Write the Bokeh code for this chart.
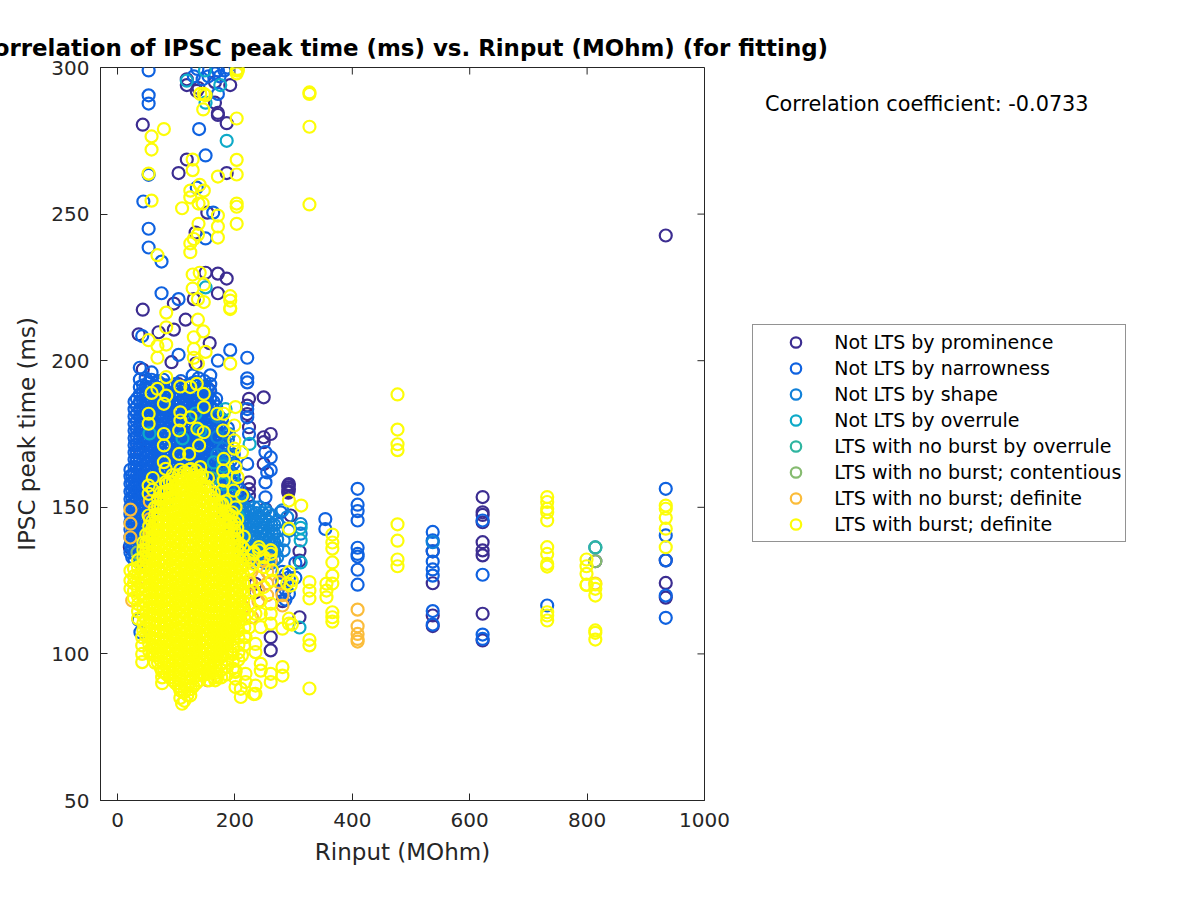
from bokeh.plotting import figure
from bokeh.models import Legend, LegendItem, FixedTicker, Range1d, Title
from bokeh.embed import file_html
from bokeh.resources import INLINE

series_names = ["Not LTS by prominence", "Not LTS by narrowness", "Not LTS by shape", "Not LTS by overrule",
                "LTS with no burst by overrule", "LTS with no burst; contentious", "LTS with no burst; definite",
                "LTS with burst; definite"]
series_colors = ["#3c2d91", "#0f62e0", "#1181d9", "#0eaac8", "#2fb5a0", "#86bb70", "#fbbc3a", "#fdfd08"]
x_ticks = [0, 200, 400, 600, 800, 1000]
y_ticks = [50, 100, 150, 200, 250, 300]
correlation_text = "Correlation coefficient: -0.0733"

prominence = {
    934: [242.7, 131.9, 124.2, 119.2], 814: [131.6],
    622: [153.5, 148.3, 147.4, 144.9, 138.1, 135.3, 133.6, 113.7, 104.6],
    537: [135, 124.1, 113.1, 109.5], 291: [157.5, 156.8, 155.5, 155], 310: [135, 131.8, 112.5],
    43: [280.5, 217.4, 197], 171: [284.5, 283.8, 229.7, 223, 181], 186: [281, 264, 228], 118: [296, 294, 268.6],
    104: [264, 192, 170], 153: [250.5], 150: [230, 188, 160], 133: [243.7, 199], 130: [221, 175], 116: [214, 186],
    96: [219.5, 210.6, 180], 36: [209, 170], 70: [209.7, 176, 150], 157: [206, 190], 92: [199.5, 160], 192: [294],
    166: [295, 288, 176], 138: [293], 135: [292], 249: [187.5, 173.9, 172.2, 164.8], 224: [187, 177.3, 158.5, 156.2, 154],
    221: [184.7, 181.8], 261: [175, 105.7, 101.2], 292: [157.9, 156.2], 252: [149.4], 295: [147.2], 235: [123.9, 121],
    21: [136.4], 281: [125, 118],
}
narrowness = {
    934: [156.3, 140.4, 131.9, 119.9, 112.3], 409: [156.3, 150.9, 148.7, 145.5, 136.2, 134.1, 133.2, 128.7, 123.6],
    537: [141.6, 138.7, 131.5, 128.8, 126.7, 135, 114.6, 110], 622: [145.5, 127, 106.6, 105.1], 732: [116.5],
    53: [299, 290.5, 287.7, 263.4, 245, 238.6], 44: [254.3], 139: [279], 150: [270, 241.7], 163: [250.5], 135: [259],
    75: [233.8, 223], 104: [221, 202], 42: [208.4], 192: [203.6], 221: [201, 194, 192.6, 183.5, 180.7, 164.8], 171: [299, 291, 200],
    136: [299.5], 130: [297], 182: [299], 187.5: [300], 174: [297], 155: [297], 166: [298], 145: [296],
    224: [175], 252: [168.8, 158.5, 153.4], 261: [167, 162.7], 255: [161.9], 215: [154], 278: [148.3], 354: [146, 142.6],
    36: [111.6], 39: [107.4], 281: [128, 124, 121], 286: [127, 122, 118.5], 292: [126, 120.5], 303: [131, 126],
    22: [134.6, 137.2, 139.8, 142.4, 145, 147.6, 150.2, 152.8, 155.4, 158, 160.6, 162.8],
    29: [132, 134.4, 136.9, 139.3, 141.8, 144.2, 146.7, 149.1, 151.6, 154, 156.5, 158.9, 161.4, 163.8, 166.3, 168.7, 171.2, 173.6, 176.1, 178.5, 181, 183.4, 186],
    38: [131, 133.5, 136, 138.5, 141, 143.5, 146, 148.5, 151, 153.5, 156, 158.5, 161, 163.5, 166, 168.5, 171, 173.5, 176, 178.5, 181, 183.5, 186, 188.5, 191, 193.6, 197.6],
    48: [136, 138.4, 140.8, 143.2, 145.6, 148, 150.4, 152.8, 155.2, 157.6, 160, 162.4, 164.8, 167.2, 169.6, 172, 174.4, 176.8, 179.2, 181.6, 184, 186.4, 188.8, 191.2, 194],
    58: [146, 148.5, 151, 153.5, 156, 158.5, 161, 163.5, 166, 168.5, 171, 173.5, 176, 178.5, 181, 183.5, 186, 188.5, 191, 193.5, 196],
    68: [152, 154.4, 156.8, 159.2, 161.6, 164, 166.4, 168.8, 171.2, 173.6, 176, 178.4, 180.8, 183.2, 185.6, 188, 190.4, 193],
    78: [156, 158.5, 161, 163.5, 166, 168.5, 171, 173.5, 176, 178.5, 181, 183.5, 186, 188.5, 191, 193.5],
    88: [160, 162.4, 164.8, 167.2, 169.6, 172, 174.4, 176.8, 179.2, 181.6, 184, 186.4, 188.8, 191.2],
    98: [162, 164.5, 167, 169.5, 172, 174.5, 177, 179.5, 182, 184.5, 187, 189.5, 192],
    108: [164, 166.4, 168.8, 171.2, 173.6, 176, 178.4, 180.8, 183.2, 185.6, 188, 190.4, 193],
    118: [164, 166.5, 169, 171.5, 174, 176.5, 179, 181.5, 184, 186.5, 189, 191.5],
    128: [166, 168.4, 170.8, 173.2, 175.6, 178, 180.4, 182.8, 185.2, 187.6, 190, 192.4, 195],
    138: [164, 166.5, 169, 171.5, 174, 176.5, 179, 181.5, 184, 186.5, 189, 191.5, 194],
    148: [164, 166.4, 168.8, 171.2, 173.6, 176, 178.4, 180.8, 183.2, 185.6, 188, 190.4, 193],
    158: [162, 164.5, 167, 169.5, 172, 174.5, 177, 179.5, 182, 184.5, 187, 189.5, 192, 195],
    168: [158, 160.4, 162.8, 165.2, 167.6, 170, 172.4, 174.8, 177.2, 179.6, 182, 184.4, 187],
    178: [150, 153, 156, 159, 162, 165, 168, 171, 174, 177, 180],
    188: [146, 149, 152, 155, 158, 161, 164, 167, 170, 173, 177],
    198: [143, 146, 149, 152, 155, 158, 161, 165, 168],
    208: [138, 141, 144, 147, 150, 153, 156],
    25: [133, 136, 138.5, 141, 143.5, 146, 148.5, 151, 153.5, 156, 158.5, 161],
    33: [135, 137.6, 140.2, 142.8, 145.4, 148, 150.6, 153.2, 155.8, 158.4, 161, 163.6, 166.2, 168.8, 171.4, 174, 176.6, 179.2, 181.8, 184.4, 187],
    43.5: [137, 139.6, 142.2, 144.8, 147.4, 150, 152.6, 155.2, 157.8, 160.4, 163, 165.6, 168.2, 170.8, 173.4, 176, 178.6, 181.2, 183.8, 186.4, 189, 191.6],
    53.5: [145, 147.7, 150.2, 152.7, 155.2, 157.7, 160.2, 162.7, 165.2, 167.7, 170.2, 172.7, 175.2, 177.7, 180.2, 182.7, 185.2, 187.7, 190.2, 192.7],
    63: [152, 155, 157.6, 160.2, 162.8, 165.4, 168, 170.6, 173.2, 175.8, 178.4, 181, 183.6, 186.2, 188.8, 191.4],
    73: [157, 159.7, 162.2, 164.7, 167.2, 169.7, 172.2, 174.7, 177.2, 179.7, 182.2, 184.7, 187.2, 189.7, 192.2],
    83.5: [160, 163, 165.6, 168.2, 170.8, 173.4, 176, 178.6, 181.2, 183.8, 186.4, 189, 191.6],
    93: [163, 165.7, 168.2, 170.7, 173.2, 175.7, 178.2, 180.7, 183.2, 185.7, 188.2, 190.7],
    103: [165, 167.6, 170.2, 172.8, 175.4, 178, 180.6, 183.2, 185.8, 188.4, 191],
    113: [165, 167.7, 170.2, 172.7, 175.2, 177.7, 180.2, 182.7, 185.2, 187.7, 190.2],
    123: [165, 167.6, 170.2, 172.8, 175.4, 178, 180.6, 183.2, 185.8, 188.4, 191],
    133.5: [165, 167.7, 170.2, 172.7, 175.2, 177.7, 180.2, 182.7, 185.2, 187.7, 190.2, 192.7],
    143: [165, 167.6, 170.2, 172.8, 175.4, 178, 180.6, 183.2, 185.8, 188.4, 191],
    153.5: [163, 165.7, 168.2, 170.7, 173.2, 175.7, 178.2, 180.7, 183.2, 185.7, 188.2, 190.7],
    163.5: [160, 162.6, 165.2, 167.8, 170.4, 173, 175.6, 178.2, 180.8, 183.4, 186],
    173: [154, 157, 160, 163, 166, 169, 172, 175, 178, 181],
    183: [148, 151, 154, 157, 160, 163, 166, 169, 172, 175],
    193: [144, 147, 150, 153, 156, 159, 162, 166],
    203: [140, 143, 146, 149, 152, 155, 158],
}
shape = {
    537: [138.1], 814: [136.3], 312: [144.3, 141], 292: [142], 232: [143.8, 134, 138], 263: [141], 281: [149],
    283: [138.7, 135.3], 261: [137.5], 244: [141], 221: [146.6], 249: [143], 289: [146.6],
    212: [133, 136, 139, 142, 145, 148, 151], 222: [132, 135, 138, 141, 144, 149, 152], 232.5: [131, 136, 140, 146, 150],
    242: [132, 135, 138, 144, 147, 150], 252: [131, 134, 137, 140, 146, 149], 262: [131, 134, 144, 147], 272: [133, 136, 139, 142, 145],
    180: [170, 165, 159, 154], 190: [175, 168, 162, 156], 170: [181, 174, 168],
    217: [134.5, 137.5, 140.5, 143.5, 146.5, 149.5], 227: [133.5, 136.5, 139.5, 142.5, 145.5, 148.5], 237: [133, 136, 139, 142, 145, 148],
    247: [133, 136, 139, 142, 145, 148], 257: [133, 136, 139, 142, 145, 148], 267: [132, 135, 138, 141, 144],
}
overrule = {
    118: [295.5], 149: [299], 175: [294], 150: [288, 225], 186: [275], 54.5: [175.2], 110.7: [173.5], 133: [182], 141: [176.2],
    164: [165.3], 225: [171.6], 184: [183.5], 312: [143, 138.7, 131.2], 310: [109], 196: [160, 154], 180: [158, 164], 205: [147],
}
burst_overrule = {814: [136.3], 40: [133], 100: [152], 160: [160]}
contentious = {814: [131.6], 34: [134.6], 60: [142], 150: [128]}
definite = {
    409: [115.1, 109.4, 106.8, 105.1, 104.2], 814: [124], 22: [149.2, 144.4, 139.7], 25: [118.2], 153: [91],
    281: [120, 116.5], 275: [124.5], 261: [135.3, 131.9], 218: [130.7], 246: [132], 215: [116], 229: [112.5],
    255: [128, 124, 120], 240: [126, 122, 118], 228: [128, 124], 55: [152, 146, 140], 45: [130, 126],
    50: [137, 134],
}
burst = {
    327: [291.5, 291, 279.8, 253.3, 124.5, 121.6, 118.9, 104.8, 102.9, 88.2],
    477: [188.5, 176.5, 171.5, 169.5, 144.2, 138.6, 132.2, 129.9],
    732: [153.5, 151.8, 149.5, 148.3, 145.5, 136.4, 134.1, 130.7, 129.8, 114.2, 113.1, 111.4],
    799: [132.2, 129.9, 127.3, 123.6, 123.5], 814: [123.7, 122.2, 119.9, 108, 107.2, 104.9],
    934: [150.6, 149.5, 146.4, 142.7, 136.4], 356: [124, 121.6, 119.3],
    366: [140.7, 138, 135.9, 131.2, 126.7, 124, 114.2, 112.5, 111], 313: [150.6],
    292: [152.3, 142.7, 127.9, 110.3, 112], 297: [125, 110], 289: [124], 295: [123.3],
    79: [279, 175, 171.1, 185.3, 165.4], 58: [276.5, 272, 254.6, 189], 128: [268.6, 265, 229.4, 224.6], 203: [282.6, 263.5, 268.5, 253.6, 252.5, 246.7, 299, 298],
    171: [262.8, 245.8, 242, 249.5], 146: [285.7, 210], 53: [263.8, 207, 181.9, 178.5, 157.4, 154.6, 147.2],
    140: [260, 230], 147: [258, 226, 220, 291, 188.7, 184.2, 175.6, 156.9], 124: [258, 255.7, 240, 237, 191, 180.7, 85.8],
    110: [252, 83], 138: [253.6, 246.7], 145: [253.6], 137: [243, 221, 214, 199], 130: [241.5, 208, 204, 201], 68: [236, 205, 201, 190.4],
    192: [222, 220.5, 218, 217.6, 199], 83: [216.4, 211.4, 205.5, 194.4, 188.1], 150: [290.5, 203], 141: [291, 163.7],
    204.5: [299.5, 160.3], 205: [299], 107: [191.2, 182.4, 179.6, 162.8, 156.9, 87.5, 85], 135: [192.1], 105: [176.2, 168.2],
    122: [168.2, 162.8], 136: [176.8, 159.1], 139: [171.1], 82: [163.1, 158.6, 155.2], 201: [184.2, 163.7, 150, 94.3, 91.5, 88.7, 93.8],
    170: [181.9, 94.3, 92], 181: [181.9, 166.5, 159.1], 199: [177.9, 172.8, 170], 180: [176.2, 162.5], 212: [168.8, 154, 99.5],
    178: [155.7, 151.2], 198: [155.7], 195: [148.3, 100], 215: [140], 241: [136.4, 135.3], 232: [134.1, 130.7, 134.7, 121.6, 86.3], 249: [133, 129.6, 122.8],
    261: [135.3, 134.1, 117.1, 113.7, 110.3, 93.2, 90.4], 281: [108.6, 95.5, 92.6], 244: [118.2, 113.7, 109.1, 96.6, 94.3],
    235: [113.7, 103.4, 100.6, 89.2, 86.4], 218: [105.7, 93.2, 90.4], 221: [113.7], 263: [128.5, 125], 210: [88.1, 85.3],
    22: [128.4, 125, 122.2], 42: [105.7, 102.9, 100, 97.2], 76: [94, 92, 90], 164.5: [92], 60: [160, 156],
    28: [119, 121.5, 124, 126.5, 129],
    35: [112, 114.5, 117, 119.5, 122, 124.5, 127, 129.5, 132],
    44: [108, 110.5, 113, 115.5, 118, 120.5, 123, 125.5, 128, 130.5, 133, 135.5, 138],
    54: [101, 103.5, 106, 108.5, 111, 113.5, 116, 118.5, 121, 123.5, 126, 128.5, 131, 133.5, 136, 138.5, 141, 143.5],
    64: [97, 99.4, 101.8, 104.2, 106.6, 109, 111.4, 113.8, 116.2, 118.6, 121, 123.4, 125.8, 128.2, 130.6, 133, 135.4, 137.8, 140.2, 142.6, 145, 147.4, 150],
    74: [95, 97.5, 100, 102.5, 105, 107.5, 110, 112.5, 115, 117.5, 120, 122.5, 125, 127.5, 130, 132.5, 135, 137.5, 140, 142.5, 145, 147.5, 150, 152.5, 155],
    84: [93, 95.4, 97.8, 100.2, 102.6, 105, 107.4, 109.8, 112.2, 114.6, 117, 119.4, 121.8, 124.2, 126.6, 129, 131.4, 133.8, 136.2, 138.6, 141, 143.4, 145.8, 148.2, 150.6, 153, 155.4, 158],
    94: [91, 93.5, 96, 98.5, 101, 103.5, 106, 108.5, 111, 113.5, 116, 118.5, 121, 123.5, 126, 128.5, 131, 133.5, 136, 138.5, 141, 143.5, 146, 148.5, 151, 153.5, 156, 158.5, 161],
    104: [89, 91.4, 93.8, 96.2, 98.6, 101, 103.4, 105.8, 108.2, 110.6, 113, 115.4, 117.8, 120.2, 122.6, 125, 127.4, 129.8, 132.2, 134.6, 137, 139.4, 141.8, 144.2, 146.6, 149, 151.4, 153.8, 156.2, 158.6, 161],
    114: [84, 87, 89.5, 92, 94.5, 97, 99.5, 102, 104.5, 107, 109.5, 112, 114.5, 117, 119.5, 122, 124.5, 127, 129.5, 132, 134.5, 137, 139.5, 142, 144.5, 147, 149.5, 152, 154.5, 157, 159.5, 162],
    125: [88, 90.4, 92.8, 95.2, 97.6, 100, 102.4, 104.8, 107.2, 109.6, 112, 114.4, 116.8, 119.2, 121.6, 124, 126.4, 128.8, 131.2, 133.6, 136, 138.4, 140.8, 143.2, 145.6, 148, 150.4, 152.8, 155.2, 157.6, 160, 163],
    134: [90, 92.5, 95, 97.5, 100, 102.5, 105, 107.5, 110, 112.5, 115, 117.5, 120, 122.5, 125, 127.5, 130, 132.5, 135, 137.5, 140, 142.5, 145, 147.5, 150, 152.5, 155, 157.5, 160, 162.5],
    144: [93, 95.4, 97.8, 100.2, 102.6, 105, 107.4, 109.8, 112.2, 114.6, 117, 119.4, 121.8, 124.2, 126.6, 129, 131.4, 133.8, 136.2, 138.6, 141, 143.4, 145.8, 148.2, 150.6, 153, 155.4, 158, 161],
    154: [94, 96.5, 99, 101.5, 104, 106.5, 109, 111.5, 114, 116.5, 119, 121.5, 124, 126.5, 129, 131.5, 134, 136.5, 139, 141.5, 144, 146.5, 149, 151.5, 154, 157, 160],
    164: [97, 99.4, 101.8, 104.2, 106.6, 109, 111.4, 113.8, 116.2, 118.6, 121, 123.4, 125.8, 128.2, 130.6, 133, 135.4, 137.8, 140.2, 142.6, 145, 147.4, 149.8, 152.2, 155],
    174: [99, 101.5, 104, 106.5, 109, 111.5, 114, 116.5, 119, 121.5, 124, 126.5, 129, 131.5, 134, 136.5, 139, 141.5, 144, 146.5, 149, 151.5],
    184: [103, 105.4, 107.8, 110.2, 112.6, 115, 117.4, 119.8, 122.2, 124.6, 127, 129.4, 131.8, 134.2, 136.6, 139, 141.4, 143.8, 146.2, 148.6, 152],
    194: [107, 109.5, 112, 114.5, 117, 119.5, 122, 124.5, 127, 129.5, 132, 134.5, 137, 139.5, 142, 144.5, 147],
    204: [113, 115.5, 118, 120.5, 123, 125.5, 128, 130.5, 133, 135.5, 138, 140.5, 143, 146],
    214: [115, 118, 121, 124, 127, 130, 133, 136],
    224: [109, 117, 121, 125, 129, 132],
    49: [106, 108.7, 111.3, 114, 116.7, 119.3, 122, 124.7, 127.3, 130, 132.7, 135.3, 138, 140.7],
    59: [100, 102.7, 105.3, 108, 110.7, 113.3, 116, 118.7, 121.3, 124, 126.7, 129.3, 132, 134.7, 137.3, 140, 142.7, 145.3],
    69: [97, 99.7, 102.3, 105, 107.7, 110.3, 113, 115.7, 118.3, 121, 123.7, 126.3, 129, 131.7, 134.3, 137, 139.7, 142.3, 145, 147.7, 150.3, 153],
    79.5: [94, 96.7, 99.3, 102, 104.7, 107.3, 110, 112.7, 115.3, 118, 120.7, 123.3, 126, 128.7, 131.3, 134, 136.7, 139.3, 142, 144.7, 147.3, 150, 152.7, 155.3],
    89: [92, 94.7, 97.3, 100, 102.7, 105.3, 108, 110.7, 113.3, 116, 118.7, 121.3, 124, 126.7, 129.3, 132, 134.7, 137.3, 140, 142.7, 145.3, 148, 150.7, 153.3, 156, 158.7],
    99: [90, 92.7, 95.3, 98, 100.7, 103.3, 106, 108.7, 111.3, 114, 116.7, 119.3, 122, 124.7, 127.3, 130, 132.7, 135.3, 138, 140.7, 143.3, 146, 148.7, 151.3, 154, 156.7, 159.3],
    109: [88, 90.7, 93.3, 96, 98.7, 101.3, 104, 106.7, 109.3, 112, 114.7, 117.3, 120, 122.7, 125.3, 128, 130.7, 133.3, 136, 138.7, 141.3, 144, 146.7, 149.3, 152, 154.7, 157.3, 160],
    119: [86, 89, 91.7, 94.3, 97, 99.7, 102.3, 105, 107.7, 110.3, 113, 115.7, 118.3, 121, 123.7, 126.3, 129, 131.7, 134.3, 137, 139.7, 142.3, 145, 147.7, 150.3, 153, 155.7, 158.3, 161],
    129: [89, 91.7, 94.3, 97, 99.7, 102.3, 105, 107.7, 110.3, 113, 115.7, 118.3, 121, 123.7, 126.3, 129, 131.7, 134.3, 137, 139.7, 142.3, 145, 147.7, 150.3, 153, 155.7, 158.3, 161],
    139.5: [91, 93.7, 96.3, 99, 101.7, 104.3, 107, 109.7, 112.3, 115, 117.7, 120.3, 123, 125.7, 128.3, 131, 133.7, 136.3, 139, 141.7, 144.3, 147, 149.7, 152.3, 155, 157.7, 160.3],
    149: [93, 95.7, 98.3, 101, 103.7, 106.3, 109, 111.7, 114.3, 117, 119.7, 122.3, 125, 127.7, 130.3, 133, 135.7, 138.3, 141, 143.7, 146.3, 149, 151.7, 154.3, 157],
    159: [95, 97.7, 100.3, 103, 105.7, 108.3, 111, 113.7, 116.3, 119, 121.7, 124.3, 127, 129.7, 132.3, 135, 137.7, 140.3, 143, 145.7, 148.3, 151, 153.7],
    169: [98, 100.7, 103.3, 106, 108.7, 111.3, 114, 116.7, 119.3, 122, 124.7, 127.3, 130, 132.7, 135.3, 138, 140.7, 143.3, 146, 148.7, 151.3],
    179: [100, 102.7, 105.3, 108, 110.7, 113.3, 116, 118.7, 121.3, 124, 126.7, 129.3, 132, 134.7, 137.3, 140, 142.7, 145.3, 148, 150.7],
    189: [105, 107.7, 110.3, 113, 115.7, 118.3, 121, 123.7, 126.3, 129, 131.7, 134.3, 137, 139.7, 142.3, 145, 147.7],
    199.5: [110, 112.7, 115.3, 118, 120.7, 123.3, 126, 128.7, 131.3, 134, 136.7, 139.3, 142, 144.7],
    209: [113, 116, 118.7, 121.3, 124, 126.7, 129.3, 132, 134.7, 137.3],
    156.5: [91, 93.5], 166.5: [91, 93.5, 96], 176.5: [92, 94.5, 97, 99.5, 102],
    186.5: [93, 95.5, 98, 100.5, 103, 105.5, 108], 196.5: [95, 97.5, 100, 102.5, 105, 107.5, 110],
    206: [98, 100.5, 103, 105.5, 108, 110.5, 113], 216: [103, 106, 109, 112, 115],
}
all_series = [prominence, narrowness, shape, overrule, burst_overrule, contentious, definite, burst]

p = figure(frame_width=604, frame_height=733, output_backend="svg", toolbar_location=None,
           x_range=Range1d(-29, 1000), y_range=Range1d(50, 300),
           min_border_left=108, min_border_right=488, min_border_top=75, min_border_bottom=92,
           x_axis_label="Rinput (MOhm)", y_axis_label="IPSC peak time (ms)")
p.margin = (-8, 0, 0, -8)
p.background_fill_color = "white"
p.border_fill_color = "white"
p.grid.visible = False
p.outline_line_color = "#262626"

for ax in [p.xaxis[0], p.yaxis[0]]:
    ax.major_tick_in = 7
    ax.major_tick_out = 0
    ax.minor_tick_line_color = None
    ax.axis_line_color = "#262626"
    ax.major_tick_line_color = "#262626"
    ax.major_label_text_font = "DejaVu Sans"
    ax.major_label_text_font_size = "20px"
    ax.major_label_text_color = "#262626"
    ax.axis_label_text_font = "DejaVu Sans"
    ax.axis_label_text_font_size = "23px"
    ax.axis_label_text_font_style = "normal"
    ax.axis_label_text_color = "#262626"
p.xaxis[0].ticker = FixedTicker(ticks=x_ticks)
p.yaxis[0].ticker = FixedTicker(ticks=y_ticks)
p.xaxis[0].major_label_standoff = 12
p.yaxis[0].major_label_standoff = 11
p.xaxis[0].axis_label_standoff = 9
p.yaxis[0].axis_label_standoff = 8

p.segment(x0=x_ticks, y0=[300] * 6, x1=x_ticks, y1=[297.6] * 6, line_color="#262626", line_width=1)
p.segment(x0=[1000] * 6, y0=y_ticks, x1=[988] * 6, y1=y_ticks, line_color="#262626", line_width=1)

items = []
for name, color, data in zip(series_names, series_colors, all_series):
    xs, ys = [], []
    for k, vals in data.items():
        xs += [k] * len(vals)
        ys += vals
    r = p.scatter(xs, ys, marker="circle", size=12, fill_color=None, line_color=color, line_width=2.2)
    items.append(LegendItem(label=name, renderers=[r]))

note = Legend(items=[LegendItem(label=correlation_text, renderers=[])], location=(61, 683), orientation="vertical",
              padding=0, spacing=0, label_height=26, glyph_height=26, glyph_width=0, label_standoff=0, margin=0,
              label_text_font="DejaVu Sans", label_text_font_size="20.8px", label_text_color="black",
              border_line_color=None, background_fill_color=None)
p.add_layout(note, "right")

legend = Legend(items=items, location=(-737, 258), orientation="vertical",
                padding=4, spacing=0, label_height=26, glyph_height=26, glyph_width=77, label_standoff=0, margin=0,
                label_text_font="DejaVu Sans", label_text_font_size="19px", label_text_color="black",
                border_line_color="#262626", border_line_width=1, background_fill_color="white", background_fill_alpha=1)
p.add_layout(legend, "right")

p.title = Title(text="Correlation of IPSC peak time (ms) vs. Rinput (MOhm) (for fitting)", align="center",
                text_font="DejaVu Sans", text_font_size="22.9px", text_font_style="bold", text_color="black",
                standoff=13)

open("out.html", "w").write(file_html(p, INLINE))
